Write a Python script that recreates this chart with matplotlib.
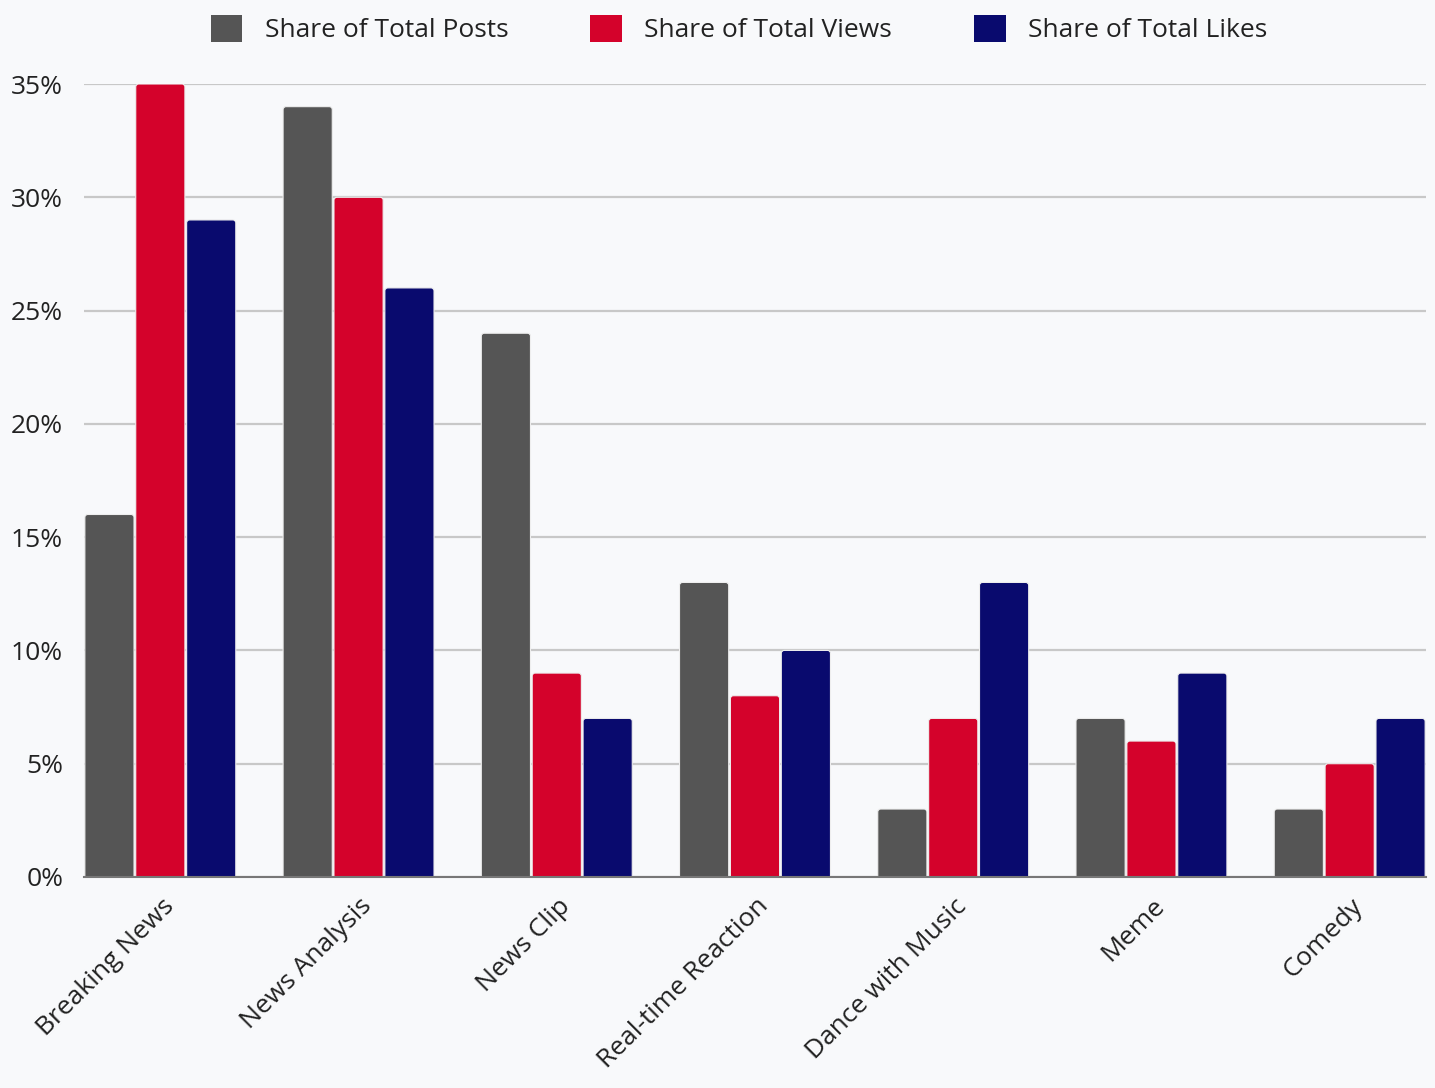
import matplotlib
matplotlib.use("Agg")
import matplotlib.pyplot as plt
import numpy as np
from matplotlib.ticker import FuncFormatter
from matplotlib.patches import FancyBboxPatch
from matplotlib.transforms import ScaledTranslation

categories = ["Breaking News", "News Analysis", "News Clip", "Real-time Reaction",
              "Dance with Music", "Meme", "Comedy"]
series_names = ["Share of Total Posts", "Share of Total Views", "Share of Total Likes"]
posts = [16, 34, 24, 13, 3, 7, 3]
views = [35, 30, 9, 8, 7, 6, 5]
likes = [29, 26, 7, 10, 13, 9, 7]
y_ticks = [0, 5, 10, 15, 20, 25, 30, 35]

colors = ["#555555", "#d4022b", "#090a6e"]
bg = "#f8f9fb"

plt.rcParams["font.family"] = ["Open Sans", "DejaVu Sans"]

fig = plt.figure(figsize=(14.35, 10.88), dpi=100, facecolor=bg)
ax = fig.add_axes([84 / 1435, (1088 - 877) / 1088, (1426 - 84) / 1435, (877 - 84) / 1088])
ax.set_facecolor(bg)

x = np.arange(len(categories))
slot = 0.2567
width = 0.248
ax.set_xlim(-1.5 * slot, len(categories) - 1 + 1.5 * slot)
ax.set_ylim(0, 35)

# corner radius of ~3 px, expressed in x data units; aspect converts it for y
r_x = 0.015
aspect = (35 / 793) / (1 / 198.7)
ext = 0.2  # extend bars below zero so only the top corners show rounding

for i, (vals, name, c) in enumerate(zip([posts, views, likes], series_names, colors)):
    bars = ax.bar(x + (i - 1) * slot, vals, width, color=c, label=name, zorder=3)
    for b in bars:
        b.set_visible(False)
        p = FancyBboxPatch((b.get_x(), -ext), b.get_width(), b.get_height() + ext,
                           boxstyle=f"round,pad=0,rounding_size={r_x}",
                           mutation_aspect=aspect, facecolor=c,
                           edgecolor="#eeeeee", linewidth=0.8, zorder=3)
        ax.add_patch(p)

ax.set_yticks(y_ticks)
ax.yaxis.set_major_formatter(FuncFormatter(lambda v, p: f"{v:.0f}%"))
ax.grid(axis="y", color="#c8c8c8", linewidth=1.6, zorder=0)
ax.set_axisbelow(True)
for s in ["top", "right", "left"]:
    ax.spines[s].set_visible(False)
ax.spines["bottom"].set_color("#777777")
ax.spines["bottom"].set_linewidth(1.5)
ax.spines["bottom"].set_zorder(4)

ax.tick_params(axis="y", length=0, pad=15, labelsize=19, labelcolor="#222222")
ax.tick_params(axis="x", length=0, pad=12, labelsize=19, labelcolor="#222222")
ax.set_xticks(x)
ax.set_xticklabels(categories, rotation=45, ha="right", va="top", rotation_mode="anchor")
for lbl in ax.get_xticklabels():
    lbl.set_transform(lbl.get_transform() + ScaledTranslation(0.01, 0, fig.dpi_scale_trans))

handles, labels = ax.get_legend_handles_labels()
leg = fig.legend(handles, labels, loc="upper center", bbox_to_anchor=(0.515, 1.008), ncol=3,
                 frameon=False, fontsize=19, handlelength=1.2, handleheight=1.2,
                 columnspacing=3.1, handletextpad=0.85, labelcolor="#222222")
for h in leg.legend_handles:
    h.set_visible(True)

fig.savefig("out.png", dpi=100, facecolor=bg)
